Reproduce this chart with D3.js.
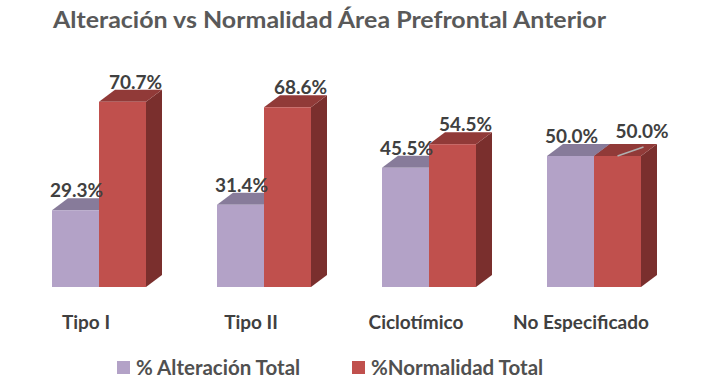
<!DOCTYPE html>
<html><head><meta charset="utf-8">
<script src="https://cdn.jsdelivr.net/npm/d3@7"></script>
<style>body{margin:0;background:#fff;overflow:hidden}</style></head>
<body><svg id="c" width="715" height="391"></svg>
<script>
const title = "Alteración vs Normalidad Área Prefrontal Anterior";
const categories = ["Tipo I", "Tipo II", "Ciclotímico", "No Especificado"];
const seriesNames = ["% Alteración Total", "%Normalidad Total"];
const alteracion = [29.3, 31.4, 45.5, 50.0];
const normalidad = [70.7, 68.6, 54.5, 50.0];

const FONT = "Lato, 'Open Sans', sans-serif";
const colors = [
  {front: "#b3a2c7", top: "#877b9a", side: "#6d5f82"},
  {front: "#c0504d", top: "#913a38", side: "#7a2f2d"}
];
const DX = 16, DY = 12, BARW = 47;

const svg = d3.select("#c");
const y = d3.scaleLinear().domain([0, 100]).range([287, 25]);
const x0 = d3.scaleBand().domain(categories).range([3.5, 663.5]).padding(0);
const x1 = d3.scaleBand().domain(seriesNames).range([0, 2 * BARW]);
const pairStart = c => x0(c) + x0.bandwidth() / 2 + 13 - BARW;

const rows = categories.map((c, i) => ({c, vals: [alteracion[i], normalidad[i]]}));

// Title
svg.append("text").attr("x", 53).attr("y", 27.5)
  .attr("font-family", FONT).attr("font-weight", 700).attr("font-size", 22.5)
  .attr("fill", "#595959").attr("textLength", 553).attr("lengthAdjust", "spacingAndGlyphs")
  .text(title);

// Bars
const g = svg.append("g");
rows.forEach((r, ci) => {
  seriesNames.forEach((s, si) => {
    const v = r.vals[si];
    const xl = pairStart(r.c) + x1(s), xr = xl + x1.bandwidth();
    const yt = y(v), yb = y(0);
    const col = colors[si];
    g.append("polygon").attr("fill", col.side)
      .attr("points", [[xr, yt], [xr + DX, yt - DY], [xr + DX, yb - DY], [xr, yb]].join(" "));
    g.append("polygon").attr("fill", col.top)
      .attr("points", [[xl, yt], [xl + DX, yt - DY], [xr + DX, yt - DY], [xr, yt]].join(" "));
    g.append("rect").attr("x", xl).attr("y", yt).attr("width", xr - xl).attr("height", yb - yt)
      .attr("fill", col.front);
  });
});

// Data labels
rows.forEach((r, ci) => {
  seriesNames.forEach((s, si) => {
    const v = r.vals[si];
    const xl = pairStart(r.c) + x1(s);
    const cx = xl + BARW / 2;
    const backTop = y(v) - DY;
    let lx = si === 0 ? cx + 1 : cx + 13;
    let ly = backTop - 1;
    const last = ci === categories.length - 1 && si === 1;
    if (last) {
      lx = cx + 24.5; ly = backTop - 6;
      svg.append("line").attr("x1", cx).attr("y1", y(v)).attr("x2", cx + 26).attr("y2", y(v) - 9)
        .attr("stroke", "#b0b0b0").attr("stroke-width", 1.5);
    }
    svg.append("text").attr("x", lx).attr("y", ly).attr("text-anchor", "middle")
      .attr("font-family", FONT).attr("font-weight", 700).attr("font-size", 19)
      .attr("fill", "#404040").text(v.toFixed(1) + "%");
  });
});

// Category labels
svg.append("g").selectAll("text").data(categories).join("text")
  .attr("x", d => x0(d) + x0.bandwidth() / 2).attr("y", 329)
  .attr("text-anchor", "middle").attr("font-family", FONT).attr("font-weight", 700)
  .attr("font-size", 19).attr("fill", "#404040").text(d => d);

// Legend
const legX = [117, 352];
const lg = svg.append("g");
seriesNames.forEach((s, i) => {
  lg.append("rect").attr("x", legX[i]).attr("y", 361).attr("width", 13).attr("height", 13)
    .attr("fill", colors[i].front);
  lg.append("text").attr("x", legX[i] + 19).attr("y", 374.5)
    .attr("font-family", FONT).attr("font-weight", 700).attr("font-size", 20.5)
    .attr("fill", "#505050").text(s);
});
</script></body></html>
